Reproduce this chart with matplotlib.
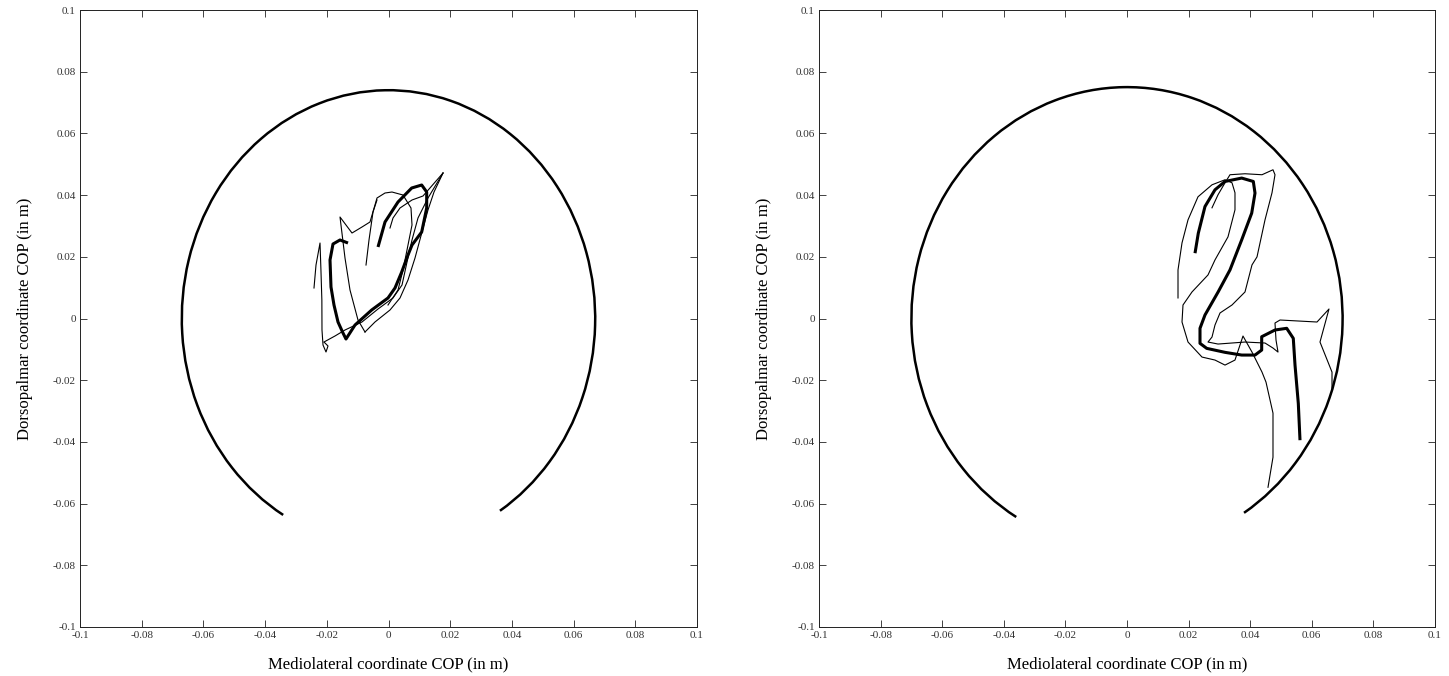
import numpy as np
import matplotlib
matplotlib.use("Agg")
import matplotlib.pyplot as plt
from matplotlib.patches import Arc

plt.rcParams['font.family'] = ['Liberation Serif', 'DejaVu Serif']
plt.rcParams['axes.unicode_minus'] = False

# boundary ellipse: semi axes (m) and arc end angles (deg)
left_ellipse = (0.067, 0.074)
left_arc = (300.1, 241.8)
right_ellipse = (0.070, 0.075)
right_arc = (301.1, 240.8)

ticks = [-0.1, -0.08, -0.06, -0.04, -0.02, 0, 0.02, 0.04, 0.06, 0.08, 0.1]
tick_labels = ['-0.1', '-0.08', '-0.06', '-0.04', '-0.02', '0', '0.02', '0.04', '0.06', '0.08', '0.1']

# left panel, thick trajectory
left_thick_x = [-0.0034, -0.00113, 0.00308, 0.00752, 0.01076, 0.01238, 0.01238, 0.01076, 0.00762,
                0.00632, 0.00428, 0.00211, -0.00016, -0.00545, -0.01086, -0.01378, -0.01475,
                -0.01637, -0.01767, -0.01864, -0.01896, -0.01799, -0.01572, -0.01313]
left_thick_y = [0.02318, 0.03128, 0.03776, 0.0423, 0.04327, 0.041, 0.03582, 0.02804, 0.02382,
                0.02058, 0.01507, 0.00989, 0.00665, 0.00276, -0.00211, -0.00665, -0.0047,
                -0.00113, 0.00438, 0.01021, 0.01896, 0.02415, 0.02545, 0.02447]

# left panel, thin trajectory pieces
left_thin = [
    ([-0.02415, -0.0235, -0.0222, -0.0219, -0.0216, -0.02156, -0.02123, -0.02026, -0.01961,
      -0.02091, -0.01734, -0.0141, -0.00859, -0.0034, 0.00146, 0.00438, 0.006, 0.00762,
      0.00956, 0.0128, 0.01767],
     [0.00989, 0.01734, 0.02447, 0.01572, 0.0060, -0.00373, -0.00859, -0.01086, -0.00891,
      -0.00762, -0.00567, -0.00373, -0.00113, 0.00308, 0.00665, 0.01086, 0.01831, 0.02545,
      0.03258, 0.03906, 0.04716]),
    ([0.01767, 0.01475, 0.0128, 0.01086, 0.00859, 0.00632, 0.00373, 0.00049, -0.00438, -0.00762],
     [0.04716, 0.04100, 0.03517, 0.02804, 0.01961, 0.01248, 0.00665, 0.00276, -0.00113, -0.00438]),
    ([-0.00762, -0.00989, -0.01248, -0.0141, -0.01572, -0.01378, -0.01183, -0.00859, -0.006,
      -0.00438, -0.00373, -0.00113, 0.00113, 0.0047, 0.00729, 0.00762, 0.00632, 0.0047,
      0.00308, -0.00016],
     [-0.00438, -0.00049, 0.00924, 0.01961, 0.0329, 0.03031, 0.02771, 0.02966, 0.03128,
      0.03679, 0.03906, 0.04068, 0.041, 0.04003, 0.03582, 0.03031, 0.02382, 0.01572,
      0.00924, 0.00438]),
    ([-0.00729, -0.00632, -0.00502, -0.00373],
     [0.01734, 0.02545, 0.03452, 0.03841]),
    ([0.00049, 0.00146, 0.00373, 0.00762, 0.01118, 0.01767],
     [0.02934, 0.03258, 0.03582, 0.03841, 0.03971, 0.04716]),
]

# right panel, thick trajectory
right_thick_x = [0.02208, 0.02315, 0.02532, 0.02857, 0.03182, 0.03724, 0.04101, 0.04156, 0.04049,
                 0.03724, 0.03344, 0.02964, 0.02532, 0.0237, 0.0237, 0.02588, 0.03182, 0.03724,
                 0.04156, 0.04373, 0.04373, 0.04805, 0.05185, 0.05399, 0.05455, 0.05562, 0.05617]
right_thick_y = [0.02117, 0.02766, 0.0363, 0.04172, 0.04442, 0.04552, 0.04442, 0.04065, 0.03416,
                 0.02549, 0.01575, 0.0087, 0.00114, -0.00318, -0.00805, -0.00968, -0.01097,
                 -0.01185, -0.01185, -0.01023, -0.00591, -0.00373, -0.00318, -0.00643, -0.0151,
                 -0.02753, -0.03945]

# right panel, thin trajectory pieces
right_thin = [
    ([0.01656, 0.01656, 0.01786, 0.01981, 0.02305, 0.0276, 0.03182, 0.03409, 0.03506, 0.03506,
      0.03279, 0.02857, 0.0263, 0.0211, 0.01818, 0.01786, 0.01883, 0.01981, 0.02435, 0.02857,
      0.03182, 0.03506, 0.03766, 0.04058, 0.04383, 0.04513, 0.0474, 0.0474, 0.04578],
     [0.00666, 0.01575, 0.02451, 0.03198, 0.03945, 0.04334, 0.04497, 0.04399, 0.04075, 0.03523,
      0.02646, 0.01899, 0.01412, 0.0086, 0.00438, -0.00114, -0.00438, -0.00763, -0.0125,
      -0.01347, -0.0151, -0.01347, -0.00568, -0.01088, -0.01737, -0.02062, -0.03068,
      -0.04497, -0.05471]),
    ([0.0276, 0.02955, 0.03182, 0.03344, 0.03831, 0.04383, 0.0474, 0.04805, 0.04708, 0.04481,
      0.04221, 0.04058, 0.03831, 0.03409, 0.0302, 0.02857, 0.0276, 0.0263, 0.02955, 0.03831,
      0.04481, 0.0474, 0.04903, 0.04838, 0.04805, 0.04968, 0.06169, 0.06558, 0.06266,
      0.06656, 0.06656],
     [0.03588, 0.0401, 0.04399, 0.0466, 0.04692, 0.0466, 0.04821, 0.0466, 0.04075, 0.03198,
      0.01997, 0.01737, 0.0086, 0.00438, 0.00179, -0.00211, -0.00601, -0.00763, -0.00828,
      -0.00763, -0.00795, -0.00958, -0.01088, -0.00698, -0.00146, -0.00049, -0.00114,
      0.00308, -0.00763, -0.01737, -0.02321]),
]


def draw_panel(ax, ellipse, arc, thick_x, thick_y, thin):
    a, b = ellipse
    ax.add_patch(Arc((0, 0), 2 * a, 2 * b, theta1=arc[0], theta2=arc[1],
                     color='black', lw=1.8))
    for xs, ys in thin:
        ax.plot(xs, ys, color='black', lw=0.8)
    ax.plot(thick_x, thick_y, color='black', lw=2.2, solid_capstyle='butt')

    ax.set_xlim(-0.1, 0.1)
    ax.set_ylim(-0.1, 0.1)
    ax.set_xticks(ticks)
    ax.set_xticklabels(tick_labels)
    ax.set_yticks(ticks)
    ax.set_yticklabels(tick_labels)
    ax.tick_params(direction='in', top=True, right=True, length=5, width=0.6,
                   labelsize=8, pad=3, colors='#222222', labelcolor='#333333')
    for s in ax.spines.values():
        s.set_linewidth(0.7)
        s.set_color('#222222')
    ax.set_xlabel('Mediolateral coordinate COP (in m)', fontsize=12, labelpad=12)
    ax.set_ylabel('Dorsopalmar coordinate COP (in m)', fontsize=12, labelpad=14)


fig = plt.figure(figsize=(14.49, 6.76), dpi=100)
ax1 = fig.add_axes([80 / 1449, 49 / 676, 617 / 1449, 617 / 676])
ax2 = fig.add_axes([819 / 1449, 49 / 676, 616 / 1449, 617 / 676])

draw_panel(ax1, left_ellipse, left_arc, left_thick_x, left_thick_y, left_thin)
draw_panel(ax2, right_ellipse, right_arc, right_thick_x, right_thick_y, right_thin)

fig.savefig('out.png', dpi=100)
